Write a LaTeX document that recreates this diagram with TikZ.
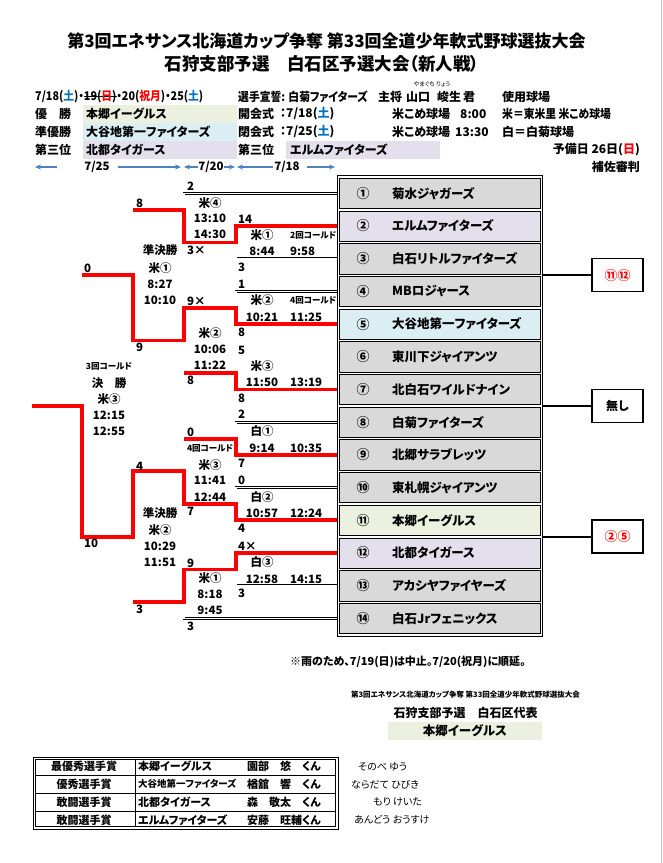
\documentclass[tikz,border=0pt]{standalone}
\usepackage{fontspec}
\usepackage{graphicx}
\setmainfont{Noto Sans CJK JP}[RawFeature=+palt]
\usetikzlibrary{arrows.meta}
\definecolor{gfill}{HTML}{D9D9D9}
\definecolor{lav}{HTML}{E4DFEC}
\definecolor{lblue}{HTML}{DAEEF3}
\definecolor{lgreen}{HTML}{EBF1DE}
\definecolor{arrowblue}{HTML}{4F81BD}
\definecolor{satblue}{HTML}{0070C0}
\definecolor{winred}{HTML}{FF0000}
\newcommand\fsz[1]{\fontsize{#1}{#1}\selectfont}
\newcommand\mystrike[1]{\setbox0\hbox{#1}\rlap{\rule[0.32em]{\wd0}{0.7pt}}\box0}
\newcommand\blu[1]{\textcolor{satblue}{#1}}
\newcommand\rd[1]{\textcolor{winred}{#1}}
\newcommand\narrow[1]{\scalebox{0.9}[1]{#1}}
\tikzset{
  dbl/.style={draw=black, line width=0.6pt, double=white, double distance=1.5pt},
  win/.style={draw=winred, line width=3.8pt},
  sc/.style={font=\fsz{11.5}\bfseries, inner sep=0pt, anchor=west},
  mt/.style={font=\fsz{11.5}\bfseries, inner sep=0pt},
  mtw/.style={font=\fsz{11.5}\bfseries, inner sep=0pt, anchor=west},
  cold/.style={font=\fsz{8.5}\bfseries, inner sep=0pt},
  hd/.style={font=\fsz{12}\bfseries, inner sep=0pt, anchor=west},
  hbox/.style={minimum width=154pt, inner sep=0pt, anchor=north west},
  teamrow/.style={draw, line width=0.7pt, minimum width=201.4pt, minimum height=30.3pt, inner sep=0pt},
  rbox/.style={draw, line width=1.6pt, minimum width=51pt, minimum height=33pt, inner sep=0pt, font=\fsz{13}\bfseries},
  conn/.style={draw, line width=1.6pt},
  barrow/.style={draw=arrowblue, line width=1.3pt, -{Stealth[length=6pt,width=5pt]}},
  aw/.style={font=\fsz{11}\bfseries, inner sep=0pt},
  awl/.style={font=\fsz{11}\bfseries, inner sep=0pt, anchor=west},
  furi/.style={font=\fsz{10}, inner sep=0pt, anchor=west},
}
\begin{document}
\begin{tikzpicture}[x=1pt,y=-1pt]
\useasboundingbox (0,0) rectangle (663,863);
\fill[white] (0,0) rectangle (663,863);
\draw[black!25, line width=1pt] (661,0) -- (661,863);

% ---------- titles ----------
\node[font=\fsz{17}\bfseries, inner sep=0pt] (title1) at (326.5,41) {第3回エネサンス北海道カップ争奪 第33回全道少年軟式野球選抜大会};
\node[font=\fsz{17.5}\bfseries, inner sep=0pt] (title2) at (322,64) {石狩支部予選　白石区予選大会（新人戦）};
\node[font=\fsz{6}, inner sep=0pt] (furigana) at (432,84) {やまぐち りょう};

% ---------- header boxes ----------
\node[hbox, fill=lgreen, minimum height=17.5pt] (hb1) at (83,105) {};
\node[hbox, fill=lblue, minimum height=18pt] (hb2) at (83,122.5) {};
\node[hbox, fill=lav, minimum height=18.5pt] (hb3) at (83,140.5) {};
\node[hbox, fill=lav, minimum height=18.5pt] (hb4) at (286,140.5) {};

% ---------- header texts ----------
\node[hd] (h1) at (35,97) {\narrow{7/18(\blu{土})・\mystrike{19(\rd{日})}・20(\rd{祝月})・25(\blu{土})}};
\node[hd] (h2) at (238,97) {\narrow{選手宣誓: 白菊ファイターズ}};
\node[hd] (h2b) at (378,97) {主将};
\node[hd] (h3) at (406,97) {山口};
\node[hd] (h4) at (437,97) {峻生};
\node[hd] (h5) at (463,97) {君};
\node[hd] (h6) at (502,97) {使用球場};
\node[hd] (h7) at (35,114) {優　勝};
\node[hd] (h8) at (86,114) {本郷イーグルス};
\node[hd] (h9) at (238,114) {開会式};
\node[hd] (h10) at (280,114) {：7/18(\blu{土})};
\node[hd] (h11) at (392,114) {米こめ球場};
\node[hd] (h12) at (460,114) {8:00};
\node[hd] (h13) at (502,114) {\narrow{米＝東米里 米こめ球場}};
\node[hd] (h14) at (35,132) {準優勝};
\node[hd] (h15) at (86,132) {大谷地第一ファイターズ};
\node[hd] (h16) at (238,132) {閉会式};
\node[hd] (h17) at (280,132) {：7/25(\blu{土})};
\node[hd] (h18) at (392,132) {米こめ球場};
\node[hd] (h19) at (455,132) {13:30};
\node[hd] (h20) at (502,132) {白＝白菊球場};
\node[hd] (h21) at (35,149.5) {第三位};
\node[hd] (h22) at (86,149.5) {北都タイガース};
\node[hd] (h23) at (238,149.5) {第三位};
\node[hd] (h24) at (290,149.5) {エルムファイターズ};
\node[hd, anchor=east] (h25) at (640,149.5) {予備日 26日(\rd{日})};
\node[hd, anchor=east] (h26) at (640,167) {補佐審判};

% ---------- date arrows ----------
\node[mt] (d1) at (97,167) {7/25};
\node[mt] (d2) at (211,167) {7/20};
\node[mt] (d3) at (287,167) {7/18};
\coordinate (a1s) at (57,167); \coordinate (a1e) at (35,167);
\coordinate (a2s) at (118,167); \coordinate (a2e) at (181,167);
\coordinate (a3s) at (198,167); \coordinate (a3e) at (184,167);
\coordinate (a4s) at (224,167); \coordinate (a4e) at (235,167);
\coordinate (a5s) at (273,167); \coordinate (a5e) at (237,167);
\coordinate (a6s) at (307,167); \coordinate (a6e) at (335,167);
\foreach \k in {1,...,6} {\draw[barrow] (a\k s) -- (a\k e);}

% ---------- team list ----------
\node[draw, line width=0.8pt, minimum width=205.4pt, minimum height=460.5pt, inner sep=0pt] (frame) at (440,405.9) {};
\foreach \i/\num/\nm/\col in {
  1/①/菊水ジャガーズ/gfill, 2/②/エルムファイターズ/lav, 3/③/白石リトルファイターズ/gfill,
  4/④/MBロジャース/gfill, 5/⑤/大谷地第一ファイターズ/lblue, 6/⑥/東川下ジャイアンツ/gfill,
  7/⑦/北白石ワイルドナイン/gfill, 8/⑧/白菊ファイターズ/gfill, 9/⑨/北郷サラブレッツ/gfill,
  10/⑩/東札幌ジャイアンツ/gfill, 11/⑪/本郷イーグルス/lgreen, 12/⑫/北都タイガース/lav,
  13/⑬/アカシヤファイヤーズ/gfill, 14/⑭/白石Jrフェニックス/gfill} {
  \pgfmathsetmacro\yc{177+(\i-0.5)*32.7}
  \node[teamrow, fill=\col] (row\i) at (440,\yc) {};
  \node[font=\fsz{13}\bfseries, inner sep=0pt] (num\i) at (363,\yc) {\num};
  \node[font=\fsz{12.5}\bfseries, inner sep=0pt, anchor=west] (name\i) at (392,\yc) {\nm};
  \coordinate (e\i) at (337,\yc);
}

% ---------- right boxes ----------
\node[rbox] (b1) at (617.5,275.1) {\rd{⑪⑫}};
\node[rbox, font=\fsz{12}\bfseries] (b2) at (617.5,405.9) {無し};
\node[rbox] (b3) at (617.5,536.7) {\rd{②⑤}};
\draw[conn] (b1.west) -- (b1.west -| frame.east);
\draw[conn] (b2.west) -- (b2.west -| frame.east);
\draw[conn] (b3.west) -- (b3.west -| frame.east);

% ---------- bracket coordinates ----------
\coordinate (r1a) at (236,242.4); \coordinate (r1b) at (236,307.8); \coordinate (r1c) at (236,373.2);
\coordinate (r1d) at (236,438.6); \coordinate (r1e) at (236,504);   \coordinate (r1f) at (236,569.4);
\coordinate (p1) at (184,242.4); \coordinate (p2) at (184,307.8); \coordinate (p3) at (184,373.2);
\coordinate (p4) at (184,438.6); \coordinate (p5) at (184,504);   \coordinate (p6) at (184,569.4);
\coordinate (r2a) at (184,209.7); \coordinate (r2b) at (184,340.5);
\coordinate (r2c) at (184,471.3); \coordinate (r2d) at (184,602.1);
\coordinate (u1) at (133,209.7); \coordinate (u2) at (133,340.5);
\coordinate (u3) at (133,471.3); \coordinate (u4) at (133,602.1);
\coordinate (sa) at (133,275.1); \coordinate (sb) at (133,536.7);
\coordinate (fa) at (82,275.1); \coordinate (fb) at (82,536.7);
\coordinate (fj) at (82,405.9); \coordinate (fw) at (32,405.9);

% losers / bracket frame (double lines)
\draw[dbl] (e1) -| (r2a);
\draw[dbl] (e3) -| (r1a);
\draw[dbl] (e4) -| (r1b);
\draw[dbl] (e6) -| (r1c);
\draw[dbl] (e8) -| (r1d);
\draw[dbl] (e10) -| (r1e);
\draw[dbl] (e13) -| (r1f);
\draw[dbl] (e14) -| (r2d);
\draw[dbl] (r2b) -- (p3);
\draw[dbl] (p4) -- (r2c);
\draw[dbl] (u1) -- (sa);
\draw[dbl] (sb) -- (u4);
\draw[dbl] (fa) -- (fj);

% winners (red)
\draw[win] (e2) -| (r1a) -- (p1) -- (r2a) -- (u1);
\draw[win] (e5) -| (r1b) -- (p2) -- (r2b) -- (u2) -- (sa) -- (fa);
\draw[win] (e7) -| (r1c) -- (p3);
\draw[win] (e9) -| (r1d) -- (p4);
\draw[win] (e11) -| (r1e) -- (p5) -- (r2c) -- (u3) -- (sb) -- (fb) -- (fj) -- (fw);
\draw[win] (e12) -| (r1f) -- (p6) -- (r2d) -- (u4);

% ---------- scores ----------
\node[sc] (s1) at (238,219) {14};
\node[sc] (s2) at (238,267) {3};
\node[sc] (s3) at (238,284) {1};
\node[sc] (s4) at (238,332) {8};
\node[sc] (s5) at (238,350) {5};
\node[sc] (s6) at (238,398) {8};
\node[sc] (s7) at (238,414) {2};
\node[sc] (s8) at (238,463) {7};
\node[sc] (s9) at (238,480) {0};
\node[sc] (s10) at (238,528) {4};
\node[sc] (s11) at (238,546) {4×};
\node[sc] (s12) at (238,593) {3};
\node[sc] (s13) at (187,186) {2};
\node[sc] (s14) at (187,250) {3×};
\node[sc] (s15) at (187,301) {9×};
\node[sc] (s16) at (187,380) {8};
\node[sc] (s17) at (187,432) {0};
\node[sc] (s18) at (187,511) {7};
\node[sc] (s19) at (187,563) {9};
\node[sc] (s20) at (187,626) {3};
\node[sc] (s21) at (136,203) {8};
\node[sc] (s22) at (136,347) {9};
\node[sc] (s23) at (136,466) {4};
\node[sc] (s24) at (136,609) {3};
\node[sc] (s25) at (84,268) {0};
\node[sc] (s26) at (84,543) {10};

% ---------- match texts: round 1 ----------
\node[mt] (m1a) at (262,235) {米①};   \node[cold, anchor=west] (m1b) at (290,235) {2回コールド};
\node[mt] (m1c) at (262,251) {8:44};  \node[mtw] (m1d) at (290,251) {9:58};
\node[mt] (m2a) at (262,300) {米②};   \node[cold, anchor=west] (m2b) at (290,300) {4回コールド};
\node[mt] (m2c) at (262,317) {10:21}; \node[mtw] (m2d) at (290,317) {11:25};
\node[mt] (m3a) at (262,366) {米③};
\node[mt] (m3c) at (262,382) {11:50}; \node[mtw] (m3d) at (290,382) {13:19};
\node[mt] (m4a) at (262,431) {白①};
\node[mt] (m4c) at (262,448) {9:14};  \node[mtw] (m4d) at (290,448) {10:35};
\node[mt] (m5a) at (262,497) {白②};
\node[mt] (m5c) at (262,513) {10:57}; \node[mtw] (m5d) at (290,513) {12:24};
\node[mt] (m6a) at (262,562) {白③};
\node[mt] (m6c) at (262,579) {12:58}; \node[mtw] (m6d) at (290,579) {14:15};
% round 2
\node[mt] (n1a) at (210,203) {米④};
\node[mt] (n1b) at (210,218) {13:10};
\node[mt] (n1c) at (210,234) {14:30};
\node[mt] (n2a) at (210,333) {米②};
\node[mt] (n2b) at (210,349) {10:06};
\node[mt] (n2c) at (210,365) {11:22};
\node[cold] (n3x) at (210,448) {4回コールド};
\node[mt] (n3a) at (210,465) {米③};
\node[mt] (n3b) at (210,480) {11:41};
\node[mt] (n3c) at (210,497) {12:44};
\node[mt] (n4a) at (210,578) {米①};
\node[mt] (n4b) at (210,594) {8:18};
\node[mt] (n4c) at (210,610) {9:45};
% semifinals
\node[mt] (q1x) at (160,250) {準決勝};
\node[mt] (q1a) at (160,268) {米①};
\node[mt] (q1b) at (160,284) {8:27};
\node[mt] (q1c) at (160,300) {10:10};
\node[mt] (q2x) at (160,513) {準決勝};
\node[mt] (q2a) at (160,530) {米②};
\node[mt] (q2b) at (160,546) {10:29};
\node[mt] (q2c) at (160,562) {11:51};
% final
\node[cold] (fx) at (109,366) {3回コールド};
\node[mt] (fy) at (109,383) {決　勝};
\node[mt] (fz) at (109,399) {米③};
\node[mt] (ft1) at (109,415) {12:15};
\node[mt] (ft2) at (109,431) {12:55};

% ---------- bottom ----------
\node[font=\fsz{11}\bfseries, inner sep=0pt, anchor=west] (note) at (290,662) {※雨のため、7/19(日)は中止。7/20(祝月)に順延。};
\node[font=\fsz{7.5}\bfseries, inner sep=0pt] (rep1) at (465.5,695) {第3回エネサンス北海道カップ争奪 第33回全道少年軟式野球選抜大会};
\node[font=\fsz{12}\bfseries, inner sep=0pt] (rep2) at (465.5,713) {石狩支部予選　白石区代表};
\node[fill=lgreen, minimum width=154pt, minimum height=18pt, inner sep=0pt, font=\fsz{12.5}\bfseries] (rep3) at (465,731) {本郷イーグルス};

% ---------- awards table ----------
\node[draw, line width=0.8pt, minimum width=305pt, minimum height=72pt, inner sep=0pt] (awd) at (185.5,793) {};
\node[draw, line width=0.7pt, minimum width=300pt, minimum height=67pt, inner sep=0pt] (awdin) at (185.5,793) {};
\draw[line width=0.6pt] (35,775.3) -- (336,775.3);
\draw[line width=0.6pt] (35,793.3) -- (336,793.3);
\draw[line width=0.6pt] (35,811.2) -- (336,811.2);
\draw[line width=0.6pt] (135,759) -- (135,827);
\node[aw] (w1a) at (84,766.5) {最優秀選手賞};
\node[aw] (w2a) at (84,784.3) {優秀選手賞};
\node[aw] (w3a) at (84,802.3) {敢闘選手賞};
\node[aw] (w4a) at (84,820) {敢闘選手賞};
\node[awl] (w1b) at (138,766.5) {本郷イーグルス};
\node[awl, font=\fsz{9.5}\bfseries] (w2b) at (138,784.3) {大谷地第一ファイターズ};
\node[awl] (w3b) at (138,802.3) {北都タイガース};
\node[awl] (w4b) at (138,820) {エルムファイターズ};
\node[awl] (w1c) at (247,766.5) {園部　悠　くん};
\node[awl] (w2c) at (247,784.3) {楢舘　響　くん};
\node[awl] (w3c) at (247,802.3) {森　敬太　くん};
\node[awl] (w4c) at (247,820) {安藤　旺輔くん};
\node[furi] (w1d) at (358,766.5) {そのべ ゆう};
\node[furi] (w2d) at (351,784.3) {ならだて ひびき};
\node[furi] (w3d) at (373,802.3) {もり けいた};
\node[furi] (w4d) at (354,820) {あんどう おうすけ};
\end{tikzpicture}
\end{document}
